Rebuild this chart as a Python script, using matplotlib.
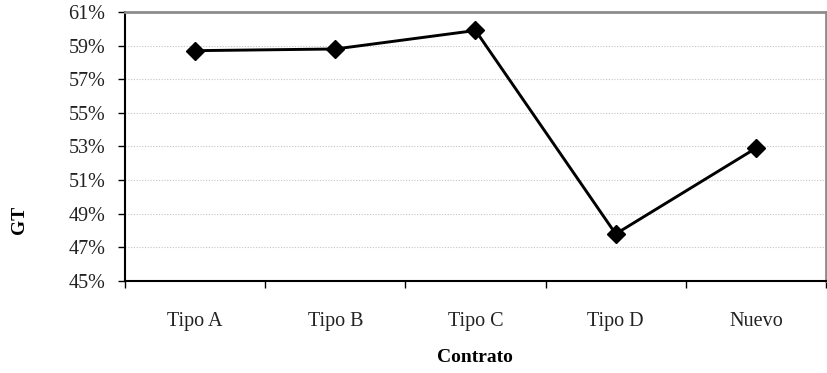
import matplotlib
matplotlib.use("Agg")
import matplotlib.pyplot as plt
from matplotlib.ticker import FixedLocator, NullFormatter

plt.rcParams['font.family'] = ['Liberation Serif', 'DejaVu Serif']

contratos = ['Tipo A', 'Tipo B', 'Tipo C', 'Tipo D', 'Nuevo']
gt = [58.7, 58.8, 59.9, 47.8, 52.9]
yticks = [45, 47, 49, 51, 53, 55, 57, 59, 61]

fig = plt.figure(figsize=(8.28, 3.73), dpi=100)
# axes placed in pixels: left 125, right 826, top 12, bottom 281
ax = fig.add_axes([125 / 828, 1 - 281 / 373, 701 / 828, 269 / 373])

x = list(range(len(contratos)))
ax.plot(x, gt, color='black', lw=2.1, marker='D', ms=9, zorder=3)

ax.set_xlim(-0.5, len(contratos) - 0.5)
ax.set_ylim(45, 61)

ax.set_yticks(yticks)
ax.set_yticklabels([f'{v}%' for v in yticks])
ax.yaxis.grid(True, color='#c4c4c4', lw=0.8, ls=(0, (1, 1.5)))
ax.set_axisbelow(True)

# category boundaries carry the tick marks, labels sit at the centers
ax.xaxis.set_major_locator(FixedLocator([i - 0.5 for i in range(len(contratos) + 1)]))
ax.xaxis.set_major_formatter(NullFormatter())
ax.xaxis.set_minor_locator(FixedLocator(x))
ax.set_xticklabels(contratos, minor=True)
ax.tick_params(axis='x', which='minor', length=0, pad=22, labelsize=14.5,
               labelcolor='#222222')
ax.tick_params(axis='x', which='major', length=5, width=1, direction='out')
ax.tick_params(axis='y', length=5, width=1, pad=9, labelsize=14.5,
               labelcolor='#222222')

for side in ['left', 'bottom']:
    ax.spines[side].set_color('black')
    ax.spines[side].set_linewidth(1.5)
for side in ['top', 'right']:
    ax.spines[side].set_color('#8c8c8c')
    ax.spines[side].set_linewidth(2)

fig.text(20 / 828, 1 - 220 / 373, 'GT', rotation=90, fontsize=14,
         fontweight='bold', ha='center', va='center')
fig.text(475 / 828, 1 - 358 / 373, 'Contrato', fontsize=14,
         fontweight='bold', ha='center', va='center')

fig.savefig('out.png', dpi=100)
